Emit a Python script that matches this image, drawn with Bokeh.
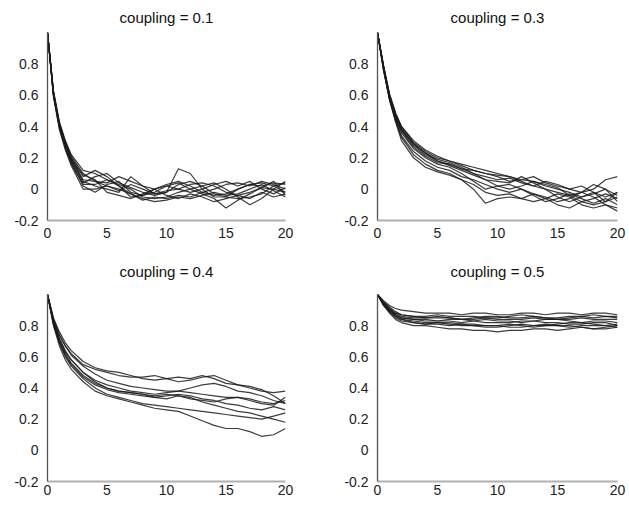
from bokeh.plotting import figure
from bokeh.layouts import gridplot
from bokeh.models import FixedTicker, Range1d
from bokeh.embed import file_html
from bokeh.resources import INLINE

# ---------------- data ----------------
x = [0, 0.5, 1, 1.5, 2, 3, 4, 5, 6, 7, 8, 9, 10, 11, 12, 13, 14, 15, 16, 17, 18, 19, 20]

titles = ["coupling = 0.1", "coupling = 0.3", "coupling = 0.4", "coupling = 0.5"]
x_ticks = [0, 5, 10, 15, 20]
y_ticks = [-0.2, 0, 0.2, 0.4, 0.6, 0.8]
y_tick_labels = ["-0.2", "0", "0.2", "0.4", "0.6", "0.8"]

series_01 = [
    [1, .62, .42, .30, .20, .05, .02, .00, -.02, .08, .02, -.03, -.02, .13, .10, .00, -.05, -.05, .00, .03, .02, .04, .03],
    [1, .60, .40, .27, .17, .02, -.02, .03, .05, -.02, -.04, -.02, .02, .04, .00, -.03, -.06, -.12, -.07, -.03, .01, .00, .05],
    [1, .63, .43, .31, .22, .12, .10, .06, .03, .00, -.05, -.06, -.05, -.02, .00, .02, .04, .00, -.05, -.10, -.06, .00, -.02],
    [1, .61, .41, .29, .19, .08, .12, .08, .02, -.03, -.07, -.05, -.06, -.04, -.05, -.02, .00, .03, .04, .02, .05, .03, .00],
    [1, .59, .38, .25, .15, .00, .00, .02, -.01, .03, .00, -.03, -.01, .00, .03, .04, .02, -.02, -.04, -.02, .01, .05, -.04],
    [1, .62, .42, .30, .21, .10, .05, .02, .00, -.03, -.06, -.08, -.07, -.05, -.06, -.04, -.02, -.04, -.03, .00, .03, -.01, -.05],
    [1, .60, .40, .28, .18, .06, .05, .04, .08, .05, .02, .00, .02, .00, -.02, .00, .03, .05, .02, .05, .00, -.03, .01],
    [1, .61, .41, .28, .18, .04, .08, .10, .04, .01, -.02, -.04, -.02, .03, .05, .02, -.03, -.05, -.06, -.05, -.03, .02, .04],
    [1, .60, .39, .26, .16, .03, .03, .06, .02, -.05, -.04, .00, .03, .05, .02, -.02, -.04, -.03, .00, .03, .04, .02, -.02],
    [1, .62, .41, .29, .20, .09, .06, -.02, -.04, -.06, -.03, .00, -.04, -.06, -.03, -.05, -.08, -.06, -.04, -.06, -.02, -.05, -.03],
]

series_03 = [
    [1, .78, .60, .48, .40, .30, .24, .20, .18, .15, .12, .10, .08, .05, .06, .08, .04, .02, .00, -.02, .00, .06, .08],
    [1, .76, .58, .45, .36, .26, .20, .16, .14, .10, .05, .00, .02, .03, .00, -.03, -.05, -.08, -.06, -.02, -.05, -.10, -.12],
    [1, .77, .58, .44, .33, .22, .16, .12, .10, .06, .00, -.09, -.06, -.05, -.06, -.03, -.06, -.10, -.12, -.08, -.10, -.08, -.02],
    [1, .79, .61, .49, .40, .31, .25, .21, .18, .16, .14, .12, .10, .08, .06, .05, .02, .00, -.02, -.05, -.03, .00, -.04],
    [1, .78, .59, .46, .37, .27, .21, .17, .16, .13, .10, .06, .05, .04, .08, .04, .00, -.05, -.08, -.05, -.02, -.08, -.05],
    [1, .77, .57, .43, .31, .20, .14, .11, .09, .06, .03, -.02, -.04, -.03, -.06, -.08, -.06, -.03, -.05, -.10, -.12, -.10, -.14],
    [1, .78, .60, .47, .38, .29, .23, .19, .17, .14, .10, .08, .06, .07, .04, .02, .05, .03, .00, .02, -.02, -.05, -.02],
    [1, .79, .60, .48, .39, .29, .23, .18, .15, .12, .09, .06, .02, .00, .02, .05, .03, .01, -.04, -.02, .03, .00, -.08],
    [1, .76, .57, .44, .34, .24, .18, .14, .12, .08, .06, .03, .00, -.02, .00, -.04, -.08, -.06, -.03, -.06, -.09, -.06, -.10],
    [1, .78, .59, .46, .38, .28, .22, .18, .16, .13, .12, .10, .09, .08, .05, .02, .00, -.02, -.04, -.08, -.06, -.03, -.06],
]

series_04 = [
    [1, .85, .76, .69, .64, .57, .53, .51, .50, .48, .46, .45, .46, .47, .46, .48, .46, .43, .42, .40, .38, .37, .38],
    [1, .84, .74, .67, .62, .55, .52, .50, .48, .47, .47, .48, .46, .44, .45, .47, .48, .45, .42, .41, .39, .35, .30],
    [1, .82, .71, .63, .58, .50, .45, .42, .40, .38, .37, .36, .37, .38, .40, .42, .43, .41, .38, .37, .35, .32, .30],
    [1, .81, .69, .61, .55, .47, .42, .39, .37, .36, .35, .34, .35, .36, .35, .33, .32, .30, .29, .27, .26, .28, .26],
    [1, .83, .72, .64, .58, .50, .44, .40, .38, .37, .36, .34, .33, .35, .34, .31, .29, .27, .25, .24, .22, .20, .18],
    [1, .80, .67, .58, .52, .44, .38, .35, .33, .31, .29, .27, .26, .25, .22, .19, .16, .14, .14, .12, .09, .10, .14],
    [1, .84, .74, .67, .61, .54, .49, .45, .43, .41, .40, .39, .38, .38, .37, .36, .35, .34, .34, .33, .31, .30, .32],
    [1, .82, .70, .62, .56, .48, .43, .40, .38, .37, .36, .35, .36, .35, .33, .32, .31, .33, .34, .32, .30, .29, .34],
    [1, .81, .69, .60, .54, .46, .40, .36, .34, .32, .30, .29, .28, .27, .26, .25, .24, .23, .22, .21, .20, .22, .24],
]

series_05 = [
    [1, .96, .93, .91, .90, .89, .88, .88, .88, .87, .88, .88, .87, .87, .88, .88, .87, .88, .88, .87, .88, .88, .87],
    [1, .95, .91, .88, .86, .85, .85, .86, .85, .84, .85, .86, .86, .85, .85, .86, .85, .84, .85, .86, .85, .86, .85],
    [1, .94, .89, .86, .84, .83, .82, .82, .81, .80, .80, .79, .79, .80, .81, .80, .80, .81, .82, .82, .81, .80, .81],
    [1, .94, .90, .87, .85, .84, .84, .83, .83, .82, .83, .84, .83, .83, .82, .83, .84, .84, .83, .82, .83, .83, .82],
    [1, .93, .88, .84, .82, .80, .80, .79, .78, .78, .77, .77, .76, .77, .77, .78, .78, .77, .78, .79, .78, .78, .79],
    [1, .95, .92, .89, .87, .86, .86, .87, .86, .86, .86, .85, .85, .86, .87, .86, .85, .85, .86, .86, .87, .86, .86],
    [1, .94, .90, .87, .85, .84, .83, .83, .84, .84, .83, .82, .82, .82, .83, .83, .82, .82, .81, .81, .82, .82, .80],
    [1, .93, .89, .85, .83, .82, .81, .81, .80, .81, .81, .80, .80, .79, .79, .80, .81, .80, .79, .80, .80, .80, .79],
    [1, .95, .91, .88, .87, .86, .85, .85, .85, .84, .84, .85, .84, .84, .84, .85, .84, .84, .84, .85, .84, .84, .84],
    [1, .94, .89, .86, .84, .82, .81, .82, .82, .81, .80, .80, .80, .81, .80, .79, .80, .80, .80, .79, .78, .79, .80],
]

all_series = [series_01, series_03, series_04, series_05]

# (width, height, left, right, top, bottom, title standoff, x label standoff)
layouts = [
    (314, 246, 45, 29, 31, 26, 13, 1),
    (315, 246, 63, 12, 31, 26, 13, 1),
    (314, 260, 47, 27, 48, 25, 29, -3),
    (315, 260, 63, 11, 48, 25, 29, -3),
]

FONT = "Liberation Sans"


def make_panel(title, series, lay):
    w, h, l, r, t, b, so, xso = lay
    p = figure(width=w, height=h, output_backend="svg", toolbar_location=None,
               x_range=Range1d(0, 20), y_range=Range1d(-0.2, 1.0),
               min_border_left=l, min_border_right=r,
               min_border_top=t, min_border_bottom=b)
    p.title.text = title
    p.title.align = "center"
    p.title.text_font = FONT
    p.title.text_font_size = "15px"
    p.title.text_font_style = "normal"
    p.title.text_color = "#111111"
    p.title.standoff = so
    p.outline_line_color = None
    p.xgrid.visible = False
    p.ygrid.visible = False
    p.background_fill_color = "white"
    p.border_fill_color = "white"

    for ys in series:
        p.line(x, ys, line_color="#1a1a1a", line_width=1.2, line_alpha=0.85)

    xa = p.xaxis[0]
    xa.ticker = FixedTicker(ticks=x_ticks)
    xa.axis_line_color = "#b0b0b0"
    xa.axis_line_width = 2
    ya = p.yaxis[0]
    ya.ticker = FixedTicker(ticks=y_ticks)
    ya.major_label_overrides = {v: s for v, s in zip(y_ticks, y_tick_labels)}
    ya.axis_line_color = "#555555"
    ya.axis_line_width = 1.3
    for ax in (xa, ya):
        ax.major_tick_line_color = None
        ax.minor_tick_line_color = None
        ax.major_label_text_font = FONT
        ax.major_label_text_font_size = "14px"
        ax.major_label_text_color = "#222222"
    xa.major_label_standoff = xso
    ya.major_label_standoff = 3
    return p


panels = [make_panel(t, s, lay) for t, s, lay in zip(titles, all_series, layouts)]

grid = gridplot([[panels[0], panels[1]], [panels[2], panels[3]]], toolbar_location=None)

open("out.html", "w").write(file_html(grid, INLINE))
